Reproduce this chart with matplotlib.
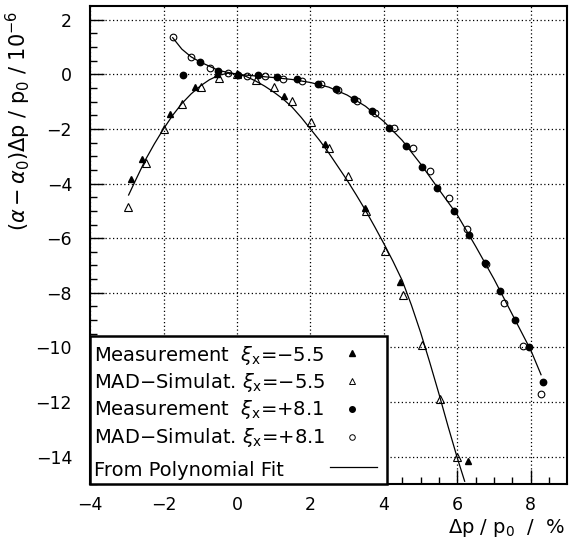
import matplotlib
matplotlib.use("Agg")
import matplotlib.pyplot as plt
from matplotlib.patches import Rectangle

plt.rcParams['font.family'] = ['DejaVu Sans']
plt.rcParams['mathtext.fontset'] = 'dejavusans'

# Measurement, chromaticity xi_x = -5.5 (filled triangles)
meas_neg_x = [-2.89, -2.59, -1.82, -1.14, -0.55, 0.03, 1.28, 2.39, 3.48, 4.45, 6.29]
meas_neg_y = [-3.85, -3.09, -1.45, -0.48, 0.02, 0.0, -0.81, -2.57, -4.88, -7.61, -14.17]

# MAD simulation, xi_x = -5.5 (open triangles)
mad_neg_x = [-2.98, -2.48, -1.98, -1.49, -0.99, -0.49, 0.0, 0.51, 1.01, 1.51, 2.01,
             2.51, 3.03, 3.52, 4.02, 4.52, 5.03, 5.52, 6.0]
mad_neg_y = [-4.87, -3.24, -2.0, -1.1, -0.48, -0.12, 0.0, -0.2, -0.45, -0.97, -1.73,
             -2.7, -3.73, -5.0, -6.46, -8.09, -9.9, -11.88, -14.02]

# Measurement, xi_x = +8.1 (filled circles)
meas_pos_x = [-1.48, -1.02, -0.52, 0.03, 0.56, 1.1, 1.64, 2.2, 2.7, 3.18, 3.67, 4.13,
              4.6, 5.03, 5.46, 5.9, 6.33, 6.75, 7.16, 7.56, 7.95, 8.34]
meas_pos_y = [-0.02, 0.46, 0.12, -0.02, -0.01, -0.11, -0.19, -0.37, -0.55, -0.91, -1.35,
              -1.95, -2.63, -3.38, -4.16, -5.0, -5.88, -6.92, -7.92, -9.0, -10.0, -11.25]

# MAD simulation, xi_x = +8.1 (open circles)
mad_pos_x = [-1.73, -1.25, -0.73, -0.24, 0.26, 0.76, 1.26, 1.77, 2.28, 2.76, 3.28, 3.77,
             4.28, 4.78, 5.26, 5.76, 6.27, 6.77, 7.27, 7.78, 8.27]
mad_pos_y = [1.36, 0.63, 0.23, 0.04, -0.06, -0.08, -0.16, -0.24, -0.37, -0.59, -0.96, -1.4,
             -1.98, -2.7, -3.53, -4.52, -5.65, -6.93, -8.39, -9.96, -11.7]

# polynomial fit curves
fit_neg_x = [-2.95, -2.75, -2.5, -2.25, -2.0, -1.75, -1.5, -1.25, -1.0, -0.75, -0.5,
             -0.25, 0.0, 0.25, 0.5, 0.75, 1.0, 1.25, 1.5, 1.75, 2.0, 2.25, 2.5, 2.75,
             3.0, 3.25, 3.5, 3.75, 4.0, 4.25, 4.5, 4.75, 5.0, 5.25, 5.5, 5.75, 6.0, 6.2]
fit_neg_y = [-4.42, -3.85, -3.15, -2.55, -2.0, -1.5, -1.07, -0.72, -0.43, -0.2, -0.04,
             0.04, 0.02, -0.08, -0.24, -0.43, -0.65, -0.9, -1.2, -1.58, -2.0, -2.42,
             -2.88, -3.38, -3.88, -4.42, -4.98, -5.58, -6.2, -6.85, -7.55, -8.45, -9.45,
             -10.55, -11.7, -12.9, -14.05, -14.9]

fit_pos_x = [-1.75, -1.5, -1.25, -1.0, -0.5, 0.0, 0.5, 1.0, 1.5, 2.0, 2.5, 3.0, 3.5,
             4.0, 4.5, 5.0, 5.5, 6.0, 6.5, 7.0, 7.5, 8.0, 8.28]
fit_pos_y = [1.34, 0.92, 0.64, 0.45, 0.14, 0.0, -0.06, -0.12, -0.19, -0.3, -0.47, -0.76,
             -1.17, -1.73, -2.42, -3.28, -4.22, -5.15, -6.3, -7.5, -8.8, -10.1, -11.0]

labels = [r'Measurement  $\xi_{\mathrm{x}}$=$-$5.5',
          r'MAD$-$Simulat. $\xi_{\mathrm{x}}$=$-$5.5',
          r'Measurement  $\xi_{\mathrm{x}}$=+8.1',
          r'MAD$-$Simulat. $\xi_{\mathrm{x}}$=+8.1',
          'From Polynomial Fit']

fig = plt.figure(figsize=(5.7, 5.46), dpi=100)
ax = fig.add_axes([0.158, 0.1136, 0.8376, 0.8754])

ax.plot(fit_neg_x, fit_neg_y, color='k', lw=0.9)
ax.plot(fit_pos_x, fit_pos_y, color='k', lw=0.9)
ax.plot(meas_neg_x, meas_neg_y, ls='none', marker='^', ms=5, color='k')
ax.plot(mad_neg_x, mad_neg_y, ls='none', marker='^', ms=5.5, mfc='none', mec='k', mew=0.8)
ax.plot(meas_pos_x, meas_pos_y, ls='none', marker='o', ms=4.6, color='k')
ax.plot(mad_pos_x, mad_pos_y, ls='none', marker='o', ms=4.8, mfc='none', mec='k', mew=0.8)

ax.set_xlim(-4, 9)
ax.set_ylim(-15, 2.5)
ax.set_xticks(range(-4, 9, 2))
ax.set_yticks(range(-14, 3, 2))
ax.set_xticks([v / 2 for v in range(-8, 18)], minor=True)
ax.set_yticks([v / 2 for v in range(-30, 5)], minor=True)
ax.tick_params(which='both', direction='in', top=False, right=False, width=1, labelsize=12.5)
ax.tick_params(which='major', length=10)
ax.tick_params(which='minor', length=5)
ax.tick_params(axis='x', pad=9)
ax.tick_params(axis='y', pad=13)
ax.grid(True, which='major', color='k', ls=(0, (1, 2)), lw=0.9)
for sp in ax.spines.values():
    sp.set_linewidth(1.5)

ax.set_xlabel(r'$\Delta$p / p$_{\mathrm{0}}$  /  %', fontsize=14, loc='right', labelpad=2)
ax.xaxis.label.set_x(0.996)
ax.set_ylabel(r'($\alpha - \alpha_{\mathrm{0}}$)$\Delta$p / p$_{\mathrm{0}}$ / 10$^{-6}$',
              fontsize=15, loc='top', labelpad=2)
ax.yaxis.label.set_y(0.99)

# legend box, drawn by hand so the labels stay left-aligned and markers sit on the right
ax.add_patch(Rectangle((0, 0), 0.622, 0.3096, transform=ax.transAxes, facecolor='white',
                       edgecolor='k', lw=1.8, zorder=5, clip_on=False))
text_base = [0.258, 0.2015, 0.1444, 0.0864, 0.0167]
mark_y = [0.2747, 0.2155, 0.1563, 0.0990, 0.0362]
for lab, yb in zip(labels, text_base):
    ax.text(0.0084, yb, lab, transform=ax.transAxes, fontsize=14, va='baseline', ha='left',
            zorder=6)
ax.plot([0.548], [mark_y[0]], transform=ax.transAxes, ls='none', marker='^', ms=4.2,
        color='k', zorder=6, clip_on=False)
ax.plot([0.548], [mark_y[1]], transform=ax.transAxes, ls='none', marker='^', ms=4.5,
        mfc='none', mec='k', mew=0.7, zorder=6, clip_on=False)
ax.plot([0.548], [mark_y[2]], transform=ax.transAxes, ls='none', marker='o', ms=4,
        color='k', zorder=6, clip_on=False)
ax.plot([0.548], [mark_y[3]], transform=ax.transAxes, ls='none', marker='o', ms=4,
        mfc='none', mec='k', mew=0.7, zorder=6, clip_on=False)
ax.plot([0.5026, 0.6017], [mark_y[4], mark_y[4]], transform=ax.transAxes, color='k',
        lw=0.9, zorder=6, clip_on=False)

fig.savefig('out.png', dpi=100)
